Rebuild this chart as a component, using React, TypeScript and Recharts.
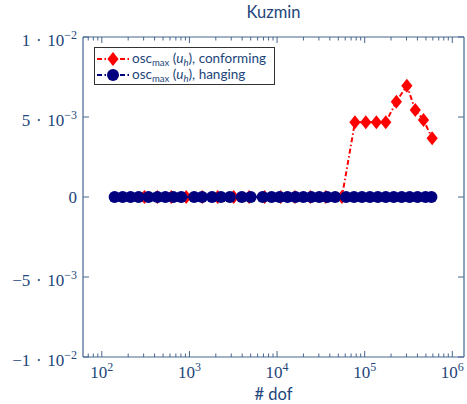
import { Legend, Scatter, ScatterChart, XAxis, YAxis } from 'recharts';

const TEXT = '#22457a';
const AXIS = '#46668f';
const RED = '#ff0000';
const NAVY = '#00007f';
const SERIF = '"Liberation Serif", "DejaVu Serif", serif';
const SANS = 'Lato, "Open Sans", sans-serif';

// x: # dof, y: osc_max(u_h)
const conforming = [
  { x: 307, y: 0 },
  { x: 431, y: 0 },
  { x: 621, y: 0 },
  { x: 919, y: 0 },
  { x: 1400, y: 0 },
  { x: 2100, y: 0 },
  { x: 3200, y: 0 },
  { x: 4800, y: 0 },
  { x: 7200, y: 0 },
  { x: 11000, y: 0 },
  { x: 16000, y: 0 },
  { x: 24000, y: 0 },
  { x: 36000, y: 0 },
  { x: 55000, y: 0 },
  { x: 77400, y: 0.00467 },
  { x: 103000, y: 0.00467 },
  { x: 136000, y: 0.00467 },
  { x: 174000, y: 0.00467 },
  { x: 230000, y: 0.00596 },
  { x: 303000, y: 0.00696 },
  { x: 378000, y: 0.00544 },
  { x: 469000, y: 0.00481 },
  { x: 589000, y: 0.00367 },
];

const hangingDofs = [
  140, 173, 213, 263, 341, 431, 531, 655, 806, 1132, 1395, 1810, 2290, 2896,
  3960, 5008, 6850, 8665, 10670, 13150, 16200, 19970, 24600, 30300, 37350,
  46030, 61330, 75560, 93070, 114700, 141300, 174100, 214500, 264300, 325600,
  401200, 494400, 578100,
];
const hanging = hangingDofs.map((x) => ({ x, y: 0 }));

const xDomain = [61, 1.36e6];
const xMajor = [100, 1000, 10000, 100000, 1000000];
const xMajorExp = ['2', '3', '4', '5', '6'];
const xMinor = [
  70, 80, 90, 200, 300, 400, 500, 600, 700, 800, 900, 2000, 3000, 4000, 5000,
  6000, 7000, 8000, 9000, 20000, 30000, 40000, 50000, 60000, 70000, 80000,
  90000, 200000, 300000, 400000, 500000, 600000, 700000, 800000, 900000,
];
const xTicks = [...xMajor, ...xMinor].sort((a, b) => a - b);

const yTicks = [-0.01, -0.005, 0, 0.005, 0.01];
const yTickLabels = [
  { m: '−1 \u200a·\u200a 10', e: '−2' },
  { m: '−5 \u200a·\u200a 10', e: '−3' },
  { m: '0', e: '' },
  { m: '5 \u200a·\u200a 10', e: '−3' },
  { m: '1 \u200a·\u200a 10', e: '−2' },
];

const legendItems = [
  { label: 'conforming', color: RED, marker: 'diamond' },
  { label: 'hanging', color: NAVY, marker: 'circle' },
];

const DASH = '5 2.5 1.5 2.5';

const Diamond = (props: any) => {
  const { cx, cy } = props;
  if (cx == null || cy == null) return null;
  return (
    <polygon
      points={`${cx},${cy - 7} ${cx + 5.6},${cy} ${cx},${cy + 7} ${cx - 5.6},${cy}`}
      fill={RED}
    />
  );
};

const Dot = (props: any) => {
  const { cx, cy } = props;
  if (cx == null || cy == null) return null;
  return <circle cx={cx} cy={cy} r={6} fill={NAVY} />;
};

const BottomTick = (props: any) => {
  const { x, y, payload } = props;
  const i = xMajor.indexOf(payload.value);
  const major = i >= 0;
  return (
    <g>
      <line x1={x} x2={x} y1={y} y2={y - (major ? 6 : 3.5)} stroke={AXIS} />
      {major && (
        <text x={x} y={y + 21} textAnchor='middle' fill={TEXT} fontFamily={SERIF} fontSize={17}>
          10
          <tspan dy={-7} fontSize={12}>
            {xMajorExp[i]}
          </tspan>
        </text>
      )}
    </g>
  );
};

const TopTick = (props: any) => {
  const { x, y, payload } = props;
  const major = xMajor.includes(payload.value);
  return <line x1={x} x2={x} y1={y} y2={y + (major ? 6 : 3.5)} stroke={AXIS} />;
};

const LeftTick = (props: any) => {
  const { x, y, index } = props;
  const lab = yTickLabels[index];
  return (
    <g>
      <line x1={x} x2={x + 6} y1={y} y2={y} stroke={AXIS} />
      <text
        x={x - 6}
        y={y + (lab.e ? 9 : 6)}
        textAnchor='end'
        fill={TEXT}
        fontFamily={SERIF}
        fontSize={17}
        style={{ whiteSpace: 'pre' }}
      >
        {lab.m}
        {lab.e && (
          <tspan dy={-7} fontSize={12}>
            {lab.e}
          </tspan>
        )}
      </text>
    </g>
  );
};

const RightTick = (props: any) => {
  const { x, y } = props;
  return <line x1={x} x2={x - 6} y1={y} y2={y} stroke={AXIS} />;
};

const Sub = ({ children, italic }: { children: any; italic?: boolean }) => (
  <span
    style={{
      fontSize: 9.5,
      position: 'relative',
      top: 3,
      fontStyle: italic ? 'italic' : 'normal',
    }}
  >
    {children}
  </span>
);

const LegendBox = () => (
  <div
    style={{
      width: 181,
      height: 38,
      boxSizing: 'border-box',
      border: '1px solid #333',
      background: '#fff',
      fontFamily: SANS,
      fontSize: 13.5,
      color: TEXT,
      paddingTop: 3,
    }}
  >
    {legendItems.map((item) => (
      <div key={item.label} style={{ display: 'flex', alignItems: 'center', height: 16 }}>
        <svg width={37} height={16} style={{ flex: 'none' }}>
          <line
            x1={2}
            x2={34}
            y1={8}
            y2={8}
            stroke={item.color}
            strokeWidth={2}
            strokeDasharray={DASH}
          />
          {item.marker === 'diamond' ? (
            <polygon points='18,1 23.6,8 18,15 12.4,8' fill={item.color} />
          ) : (
            <circle cx={18} cy={8} r={6} fill={item.color} />
          )}
        </svg>
        <span style={{ whiteSpace: 'nowrap', lineHeight: '16px' }}>
          osc<Sub>max</Sub> (<i>u</i>
          <Sub italic>h</Sub>), {item.label}
        </span>
      </div>
    ))}
  </div>
);

export default function App() {
  return (
    <div style={{ position: 'absolute', left: 0, top: 0, width: 467, height: 404, background: '#fff' }}>
      <div
        style={{
          position: 'absolute',
          left: 83,
          width: 381,
          top: 2,
          textAlign: 'center',
          fontFamily: SANS,
          fontSize: 16.5,
          color: TEXT,
        }}
      >
        Kuzmin
      </div>
      <ScatterChart width={467} height={404} margin={{ top: 0, right: 0, bottom: 0, left: 0 }}>
        <XAxis
          xAxisId='b'
          dataKey='x'
          type='number'
          scale='log'
          domain={xDomain}
          ticks={xTicks}
          interval={0}
          tickSize={0}
          tickMargin={0}
          tick={<BottomTick />}
          height={47}
          axisLine={{ stroke: AXIS, strokeWidth: 1.2 }}
          allowDataOverflow
        />
        <XAxis
          xAxisId='t'
          orientation='top'
          dataKey='x'
          type='number'
          scale='log'
          domain={xDomain}
          ticks={xTicks}
          interval={0}
          tickSize={0}
          tickMargin={0}
          tick={<TopTick />}
          height={37}
          axisLine={{ stroke: AXIS, strokeWidth: 1.2 }}
          allowDataOverflow
        />
        <YAxis
          yAxisId='l'
          dataKey='y'
          type='number'
          domain={[-0.01, 0.01]}
          ticks={yTicks}
          interval={0}
          tickSize={0}
          tickMargin={0}
          tick={<LeftTick />}
          width={83}
          axisLine={{ stroke: AXIS, strokeWidth: 1.2 }}
          allowDataOverflow
        />
        <YAxis
          yAxisId='r'
          orientation='right'
          dataKey='y'
          type='number'
          domain={[-0.01, 0.01]}
          ticks={yTicks}
          interval={0}
          tickSize={0}
          tickMargin={0}
          tick={<RightTick />}
          width={3}
          axisLine={{ stroke: AXIS, strokeWidth: 1.2 }}
          allowDataOverflow
        />
        <Legend
          layout='horizontal'
          verticalAlign='middle'
          align='center'
          content={<LegendBox />}
          wrapperStyle={{ left: 94, top: 47, width: 181, height: 38 }}
        />
        <Scatter
          name='conforming'
          data={conforming}
          xAxisId='b'
          yAxisId='l'
          line={{ stroke: RED, strokeWidth: 2, strokeDasharray: DASH }}
          shape={<Diamond />}
          isAnimationActive={false}
        />
        <Scatter
          name='hanging'
          data={hanging}
          xAxisId='b'
          yAxisId='l'
          line={{ stroke: NAVY, strokeWidth: 2, strokeDasharray: DASH }}
          shape={<Dot />}
          isAnimationActive={false}
        />
      </ScatterChart>
      <div
        style={{
          position: 'absolute',
          left: 83,
          width: 381,
          top: 384,
          textAlign: 'center',
          fontFamily: SANS,
          fontSize: 16.5,
          color: TEXT,
        }}
      >
        # dof
      </div>
    </div>
  );
}
